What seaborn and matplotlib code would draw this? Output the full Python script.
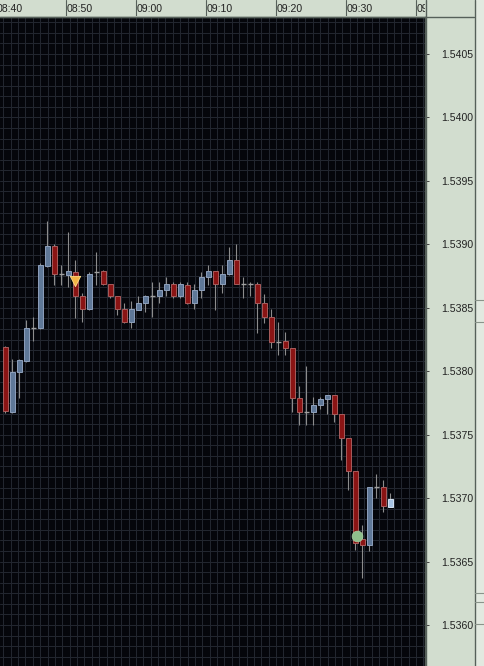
#!/usr/bin/env python3
# coding: utf-8
import numpy as np
import pandas as pd
import seaborn as sns
import matplotlib.pyplot as plt
from matplotlib.lines import Line2D
from matplotlib.ticker import MultipleLocator, FixedLocator

# ------------------------------------------------
# Data (1-minute bars)
# ------------------------------------------------
opens = [1.53819, 1.53768, 1.53799, 1.53808, 1.53834, 1.53834, 1.53883, 1.53899,
         1.53877, 1.53876, 1.53878, 1.53859, 1.53849, 1.53878, 1.53879, 1.53869,
         1.53859, 1.53849, 1.53839, 1.53848, 1.53854, 1.53859, 1.53859, 1.53864,
         1.53869, 1.53859, 1.53868, 1.53854, 1.53864, 1.53874, 1.53879, 1.53869,
         1.53877, 1.53888, 1.53869, 1.53869, 1.53869, 1.53854, 1.53843, 1.53823,
         1.53824, 1.53818, 1.53779, 1.53768, 1.53768, 1.53773, 1.53778, 1.53781,
         1.53766, 1.53747, 1.53721, 1.53668, 1.53663, 1.53709, 1.53709, 1.53693]
highs = [1.53820, 1.53810, 1.53810, 1.53840, 1.53843, 1.53885, 1.53918, 1.53900,
         1.53884, 1.53910, 1.53888, 1.53862, 1.53878, 1.53894, 1.53880, 1.53869,
         1.53859, 1.53854, 1.53855, 1.53859, 1.53860, 1.53870, 1.53870, 1.53874,
         1.53870, 1.53870, 1.53870, 1.53869, 1.53878, 1.53884, 1.53879, 1.53884,
         1.53898, 1.53900, 1.53874, 1.53870, 1.53870, 1.53861, 1.53849, 1.53839,
         1.53831, 1.53818, 1.53788, 1.53804, 1.53780, 1.53780, 1.53781, 1.53781,
         1.53766, 1.53747, 1.53721, 1.53679, 1.53709, 1.53719, 1.53714, 1.53704]
lows = [1.53767, 1.53767, 1.53779, 1.53807, 1.53824, 1.53833, 1.53882, 1.53868,
        1.53868, 1.53866, 1.53842, 1.53839, 1.53848, 1.53868, 1.53868, 1.53858,
        1.53844, 1.53838, 1.53834, 1.53848, 1.53847, 1.53843, 1.53854, 1.53859,
        1.53858, 1.53858, 1.53853, 1.53849, 1.53858, 1.53868, 1.53848, 1.53862,
        1.53876, 1.53869, 1.53858, 1.53859, 1.53830, 1.53838, 1.53818, 1.53813,
        1.53813, 1.53768, 1.53758, 1.53758, 1.53758, 1.53770, 1.53766, 1.53760,
        1.53730, 1.53706, 1.53659, 1.53637, 1.53658, 1.53700, 1.53689, 1.53693]
closes = [1.53769, 1.53799, 1.53809, 1.53834, 1.53834, 1.53884, 1.53899, 1.53877,
          1.53877, 1.53879, 1.53859, 1.53849, 1.53877, 1.53878, 1.53869, 1.53859,
          1.53849, 1.53839, 1.53849, 1.53854, 1.53859, 1.53859, 1.53864, 1.53869,
          1.53859, 1.53869, 1.53854, 1.53864, 1.53874, 1.53879, 1.53869, 1.53877,
          1.53888, 1.53869, 1.53869, 1.53869, 1.53854, 1.53843, 1.53823, 1.53823,
          1.53818, 1.53779, 1.53768, 1.53768, 1.53773, 1.53778, 1.53781, 1.53766,
          1.53747, 1.53721, 1.53665, 1.53663, 1.53709, 1.53709, 1.53694, 1.53699]

time_labels = ["08:40", "08:50", "09:00", "09:10", "09:20", "09:30", "09:40"]
price_ticks = [1.5360, 1.5365, 1.5370, 1.5375, 1.5380, 1.5385, 1.5390, 1.5395, 1.5400, 1.5405]

# markers: sell arrow and closing circle
sell_bar, sell_price = 10, 1.53871
exit_bar, exit_price = 50, 1.53670

base = pd.Timestamp("2000-01-01 08:40")
times = pd.date_range("2000-01-01 08:41", periods=len(opens), freq="min")
df = pd.DataFrame({"open": opens, "high": highs, "low": lows, "close": closes})
df["x"] = (times - base).total_seconds() / 60 + 0.33

# ------------------------------------------------
# Style
# ------------------------------------------------
sns.set_theme(style="dark")
plt.rcParams["font.family"] = ["Liberation Sans", "DejaVu Sans"]

BG = "#05060b"
GRID = "#22262f"
PANEL = "#d2ddcf"
BORDER = "#56605a"
RED_F, RED_E = "#8a1414", "#a85c5c"
BLUE_F, BLUE_E = "#5f7898", "#8ea0bc"
LAST_F, LAST_E = "#a8c4e4", "#d4e2f2"
WICK = "#8c8c8c"

W, H = 484, 666
fig = plt.figure(figsize=(W / 100, H / 100), dpi=100, facecolor=PANEL)

ax = fig.add_axes([0, 0, 425 / W, (H - 17) / H])
ax.set_facecolor(BG)

# ------------------------------------------------
# Candles
# ------------------------------------------------
bw = 0.68
ax.vlines(df["x"], df["low"], df["high"], color=WICK, lw=0.8, zorder=2)
n = len(df)
for i, r in df.iterrows():
    if abs(r["close"] - r["open"]) < 1e-9:
        ax.hlines(r["open"], r["x"] - bw / 2, r["x"] + bw / 2, color="#a0a0a0", lw=1.0, zorder=3)
        continue
    if i == n - 1:
        fc, ec = LAST_F, LAST_E
    elif r["close"] < r["open"]:
        fc, ec = RED_F, RED_E
    else:
        fc, ec = BLUE_F, BLUE_E
    ax.bar(r["x"], abs(r["close"] - r["open"]), bottom=min(r["open"], r["close"]),
           width=bw, color=fc, edgecolor=ec, linewidth=0.7, zorder=3)

marks = pd.DataFrame({"x": [df["x"][sell_bar], df["x"][exit_bar] + 0.25],
                      "y": [sell_price, exit_price], "kind": ["sell", "exit"]})
sns.scatterplot(data=marks[marks.kind == "sell"], x="x", y="y", marker="v", s=55,
                color="#f4b445", edgecolor="#ffe08a", linewidth=0.6, ax=ax, zorder=5, legend=False)
sns.scatterplot(data=marks[marks.kind == "exit"], x="x", y="y", marker="o", s=60,
                color="#8fbf8c", edgecolor="#a8d0a4", linewidth=0.5, ax=ax, zorder=5, legend=False)

# ------------------------------------------------
# Axes, grid
# ------------------------------------------------
ax.set_xlim(4 / 7, 429 / 7)
ax.set_ylim(1.5405 - 612 / 126889, 1.5405 + 37 / 126889)
ax.set_xlabel("")
ax.set_ylabel("")

ax.xaxis.set_major_locator(MultipleLocator(70 / 9.5 / 7))
ax.yaxis.set_major_locator(FixedLocator(price_ticks))
ax.yaxis.set_minor_locator(MultipleLocator(0.0005 / 6))
ax.grid(True, which="both", color=GRID, lw=0.75)
ax.tick_params(axis="x", bottom=False, labelbottom=False)
ax.yaxis.tick_right()
ax.tick_params(axis="y", which="major", right=True, length=3, width=0.7, color="#404040",
               direction="out", pad=9, labelsize=7.6, labelcolor="#222222")
ax.tick_params(axis="y", which="minor", right=False, left=False)
ax.set_yticklabels([f"{p:.4f}" for p in price_ticks])
for s in ["left", "bottom"]:
    ax.spines[s].set_visible(False)
for s in ["right", "top"]:
    ax.spines[s].set_color(BORDER)
    ax.spines[s].set_linewidth(1.0)
ax.set_axisbelow(True)

# time bar on top
axt = fig.add_axes([0, (H - 16) / H, 425 / W, 16 / H])
axt.set_facecolor(PANEL)
axt.set_xlim(ax.get_xlim())
axt.set_ylim(0, 1)
axt.set_xticks([])
axt.set_yticks([])
for s in axt.spines.values():
    s.set_visible(False)
for j, lab in enumerate(time_labels):
    m = 10 * j
    axt.axvline(m, color=BORDER, lw=0.8)
    axt.text(m + 0.15, 0.45, lab, ha="left", va="center", fontsize=7.6,
             color="#222222", clip_on=True)

# frame lines around the panels
def fline(x0, y0, x1, y1, c=BORDER, lw=1.0):
    fig.add_artist(Line2D([x0 / W, x1 / W], [1 - y0 / H, 1 - y1 / H], color=c, lw=lw))

fline(0, 16.5, 474, 16.5)
fline(425.5, 0, 425.5, H)
fline(474.5, 0, 474.5, H)
fig.add_artist(plt.Rectangle((475 / W, 0), 9 / W, 1, transform=fig.transFigure,
                             color="#e2e9e0", zorder=0))
for yy in [300, 322, 593, 602, 624]:
    fline(475, yy, W, yy, c="#8a948a", lw=0.8)

fig.savefig("out.png", dpi=100, facecolor=PANEL)
